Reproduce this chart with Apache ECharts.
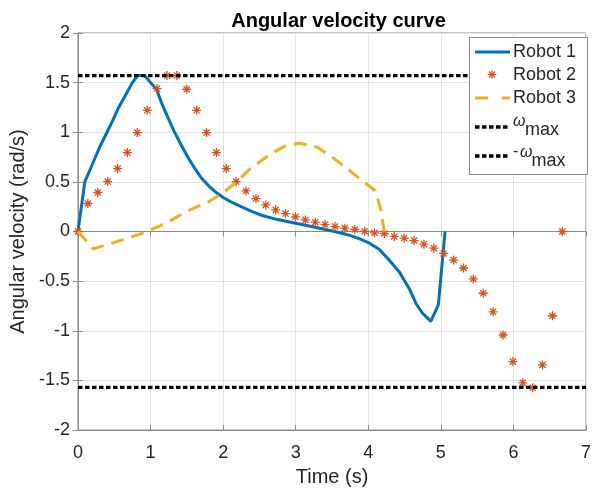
<!DOCTYPE html>
<html>
<head>
<meta charset="utf-8">
<script src="https://cdn.jsdelivr.net/npm/echarts@6/dist/echarts.min.js"></script>
<style>
html,body{margin:0;padding:0;background:#fff;}
#chart{width:594px;height:492px;}
</style>
</head>
<body>
<div id="chart"></div>
<script>
// ---- Data ----
const xTicks = [0, 1, 2, 3, 4, 5, 6, 7];
const yTicks = [-2, -1.5, -1, -0.5, 0, 0.5, 1, 1.5, 2];
const omegaMax = 1.5708;

const robot1Time = [0, 0.094, 0.2, 0.3, 0.4, 0.484, 0.56, 0.645, 0.75, 0.82, 0.92, 1.0, 1.083, 1.16, 1.24, 1.33, 1.43, 1.52, 1.616, 1.70, 1.80, 1.9, 2.0, 2.13, 2.27, 2.4, 2.55, 2.75, 3.0, 3.25, 3.49, 3.65, 3.77, 3.9, 4.0, 4.15, 4.29, 4.43, 4.567, 4.66, 4.754, 4.862, 4.965, 5.058];
const robot1Vel  = [0, 0.50, 0.68, 0.853, 1.0, 1.127, 1.25, 1.36, 1.5, 1.571, 1.571, 1.5, 1.43, 1.28, 1.148, 1.0, 0.862, 0.74, 0.628, 0.54, 0.46, 0.395, 0.342, 0.29, 0.242, 0.2, 0.158, 0.12, 0.084, 0.045, 0.007, -0.02, -0.044, -0.08, -0.111, -0.178, -0.29, -0.41, -0.579, -0.729, -0.829, -0.906, -0.739, 0];

const robot2Time = [0, 0.136, 0.272, 0.409, 0.545, 0.681, 0.817, 0.953, 1.090, 1.226, 1.362, 1.498, 1.634, 1.771, 1.907, 2.043, 2.179, 2.315, 2.452, 2.588, 2.724, 2.860, 2.996, 3.133, 3.269, 3.405, 3.541, 3.677, 3.814, 3.950, 4.086, 4.222, 4.358, 4.495, 4.631, 4.767, 4.903, 5.039, 5.176, 5.312, 5.448, 5.584, 5.720, 5.857, 5.993, 6.129, 6.265, 6.401, 6.538, 6.674];
const robot2Vel  = [0, 0.282, 0.393, 0.503, 0.634, 0.795, 0.997, 1.221, 1.440, 1.571, 1.571, 1.433, 1.221, 0.997, 0.795, 0.634, 0.503, 0.409, 0.332, 0.268, 0.218, 0.181, 0.148, 0.117, 0.094, 0.070, 0.050, 0.034, 0.020, 0.003, -0.013, -0.020, -0.050, -0.067, -0.091, -0.128, -0.168, -0.221, -0.288, -0.368, -0.478, -0.622, -0.809, -1.043, -1.311, -1.525, -1.575, -1.344, -0.849, 0];

const robot3Time = [0, 0.21, 0.5, 0.96, 1.25, 1.52, 1.8, 2.0, 2.2, 2.37, 2.65, 2.85, 3.05, 3.3, 3.5, 3.72, 3.9, 4.1, 4.17, 4.22];
const robot3Vel  = [0, -0.175, -0.11, 0.0, 0.1, 0.21, 0.3, 0.39, 0.51, 0.63, 0.78, 0.86, 0.89, 0.85, 0.75, 0.627, 0.52, 0.41, 0.225, 0.0];

const limitTime = [0, 7];

const seriesNames = ['Robot 1', 'Robot 2', 'Robot 3'];

// ---- Styles ----
const C1 = '#0072BD', C2 = '#D95319', C3 = '#EDB120';
const FONT = '"Liberation Sans", Arial, Helvetica, sans-serif';
const AXIS_C = '#8a8a8a';
const TXT_C = '#262626';

const zip = (a, b) => a.map((v, i) => [v, b[i]]);
const asterisk = 'path://M5,0L5,10M0,5L10,5M1.6,1.6L8.4,8.4M1.6,8.4L8.4,1.6';

const chart = echarts.init(document.getElementById('chart'), null, {renderer: 'canvas'});

function starLines(cx, cy, r) {
  const d = r * 0.7;
  return [[cx, cy - r, cx, cy + r], [cx - r, cy, cx + r, cy], [cx - d, cy - d, cx + d, cy + d], [cx - d, cy + d, cx + d, cy - d]]
    .map(p => ({type: 'line', shape: {x1: p[0], y1: p[1], x2: p[2], y2: p[3]}, style: {stroke: C2, lineWidth: 1.3}, z: 101}));
}

const LX1 = 475, LX2 = 510, TX = 513;
const legendGraphic = [
  {type: 'rect', shape: {x: 469.5, y: 37.5, width: 118, height: 137}, style: {fill: '#fff', stroke: AXIS_C, lineWidth: 1}, z: 100},
  {type: 'line', shape: {x1: LX1, y1: 52, x2: LX2, y2: 52}, style: {stroke: C1, lineWidth: 3}, z: 101},
  ...starLines(492, 74.5, 4.3),
  {type: 'line', shape: {x1: LX1, y1: 98, x2: LX2, y2: 98}, style: {stroke: C3, lineWidth: 3, lineDash: [13, 14]}, z: 101},
  {type: 'line', shape: {x1: LX1, y1: 127, x2: LX2, y2: 127}, style: {stroke: '#000', lineWidth: 3.3, lineDash: [4.5, 2.5]}, z: 101},
  {type: 'line', shape: {x1: LX1, y1: 156, x2: LX2, y2: 156}, style: {stroke: '#000', lineWidth: 3.3, lineDash: [4.5, 2.5]}, z: 101},
  {type: 'text', x: TX, y: 52, style: {text: seriesNames[0], font: '18px ' + FONT, fill: TXT_C, textVerticalAlign: 'middle'}, z: 101},
  {type: 'text', x: TX, y: 75, style: {text: seriesNames[1], font: '18px ' + FONT, fill: TXT_C, textVerticalAlign: 'middle'}, z: 101},
  {type: 'text', x: TX, y: 98.5, style: {text: seriesNames[2], font: '18px ' + FONT, fill: TXT_C, textVerticalAlign: 'middle'}, z: 101},
  {type: 'text', x: TX, y: 122, style: {text: 'ω', font: 'italic 16px ' + FONT, fill: TXT_C, textVerticalAlign: 'middle'}, z: 101},
  {type: 'text', x: 525, y: 130.5, style: {text: 'max', font: '18px ' + FONT, fill: TXT_C, textVerticalAlign: 'middle'}, z: 101},
  {type: 'text', x: TX, y: 152, style: {text: '-', font: '16px ' + FONT, fill: TXT_C, textVerticalAlign: 'middle'}, z: 101},
  {type: 'text', x: 520, y: 153, style: {text: 'ω', font: 'italic 16px ' + FONT, fill: TXT_C, textVerticalAlign: 'middle'}, z: 101},
  {type: 'text', x: 531.5, y: 161.5, style: {text: 'max', font: '18px ' + FONT, fill: TXT_C, textVerticalAlign: 'middle'}, z: 101}
];

const option = {
  backgroundColor: '#fff',
  animation: false,
  title: {
    text: 'Angular velocity curve',
    left: 333.5, top: 6, textAlign: 'center',
    textStyle: {fontFamily: FONT, fontWeight: 'bold', fontSize: 20, color: '#000'}
  },
  grid: {left: 78, right: 5, top: 33, bottom: 60, show: true, borderColor: AXIS_C, borderWidth: 1, backgroundColor: 'transparent'},
  xAxis: [{
    type: 'value', min: xTicks[0], max: xTicks[xTicks.length - 1], interval: 1,
    name: 'Time (s)', nameLocation: 'middle', nameGap: 37,
    nameTextStyle: {fontFamily: FONT, fontSize: 20, color: TXT_C},
    axisLine: {show: true, onZero: false, lineStyle: {color: AXIS_C, width: 1}},
    axisTick: {show: true, inside: true, length: 5, lineStyle: {color: AXIS_C}},
    axisLabel: {fontFamily: FONT, fontSize: 18, color: TXT_C, margin: 14},
    splitLine: {show: true, lineStyle: {color: '#e4e4e4', width: 1}}
  }, {
    type: 'value', position: 'top', min: xTicks[0], max: xTicks[xTicks.length - 1], interval: 1,
    axisLine: {show: true, lineStyle: {color: AXIS_C}},
    axisTick: {show: true, inside: true, length: 5, lineStyle: {color: AXIS_C}},
    axisLabel: {show: false}, splitLine: {show: false}
  }],
  yAxis: [{
    type: 'value', min: yTicks[0], max: yTicks[yTicks.length - 1], interval: 0.5,
    name: 'Angular velocity (rad/s)', nameLocation: 'middle', nameGap: 46,
    nameTextStyle: {fontFamily: FONT, fontSize: 20, color: TXT_C},
    axisLine: {show: true, onZero: false, lineStyle: {color: AXIS_C, width: 1}},
    axisTick: {show: true, inside: true, length: 5, lineStyle: {color: AXIS_C}},
    axisLabel: {fontFamily: FONT, fontSize: 18, color: TXT_C, margin: 8, formatter: v => String(v)},
    splitLine: {show: true, lineStyle: {color: '#e4e4e4', width: 1}}
  }, {
    type: 'value', position: 'right', min: yTicks[0], max: yTicks[yTicks.length - 1], interval: 0.5,
    axisLine: {show: true, lineStyle: {color: AXIS_C}},
    axisTick: {show: true, inside: true, length: 5, lineStyle: {color: AXIS_C}},
    axisLabel: {show: false}, splitLine: {show: false}
  }],
  series: [
    {name: seriesNames[0], type: 'line', data: zip(robot1Time, robot1Vel), showSymbol: false, symbol: 'none',
     lineStyle: {color: C1, width: 3}, z: 2},
    {name: seriesNames[1], type: 'scatter', data: zip(robot2Time, robot2Vel), symbol: asterisk, symbolSize: 9,
     itemStyle: {color: 'rgba(0,0,0,0)', borderColor: C2, borderWidth: 1.3, opacity: 1}, z: 3},
    {name: seriesNames[2], type: 'line', data: zip(robot3Time, robot3Vel), symbol: 'none',
     lineStyle: {color: C3, width: 3, type: [13, 8]}, z: 4},
    {name: 'wmax', type: 'line', data: zip(limitTime, [omegaMax, omegaMax]), symbol: 'none',
     lineStyle: {color: '#000', width: 3.3, type: [4.5, 2.5]}, z: 5},
    {name: 'nwmax', type: 'line', data: zip(limitTime, [-omegaMax, -omegaMax]), symbol: 'none',
     lineStyle: {color: '#000', width: 3.3, type: [4.5, 2.5]}, z: 5}
  ],
  graphic: legendGraphic
};
chart.setOption(option);
</script>
</body>
</html>
